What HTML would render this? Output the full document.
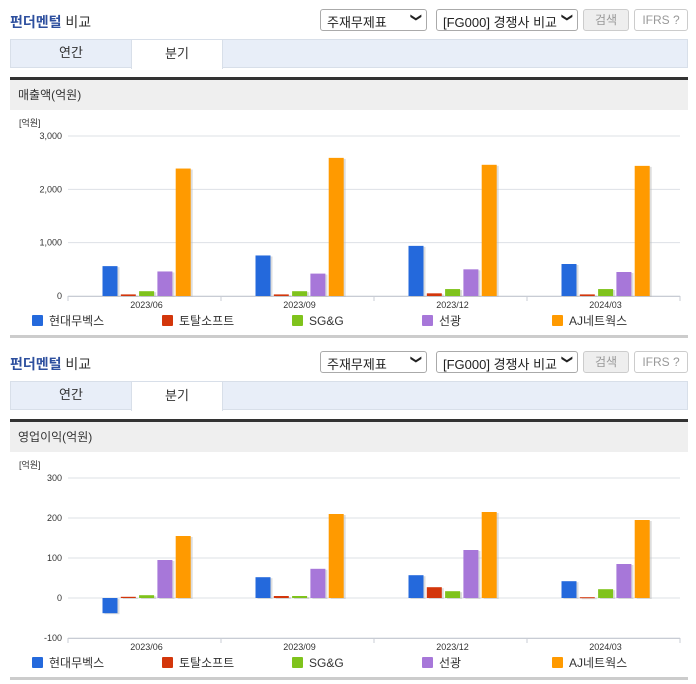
<!DOCTYPE html>
<html><head><meta charset="utf-8">
<style>
*{box-sizing:border-box;margin:0;padding:0}
body{width:696px;height:684px;background:#fff;font-family:"Liberation Sans","Noto Sans CJK KR",sans-serif;position:relative;overflow:hidden;color:#333}
.abs{position:absolute}
.title{font-size:14px;color:#2d4f9e;font-weight:bold;left:10px}
.sel{height:22px;border:1px solid #aaa;border-radius:3px;background:#fff;font-size:13px;padding:2px 6px;color:#222}
.sel .arr{position:absolute;right:5px;top:1px;font-size:11px}
.btn{height:22px;border:1px solid #ccc;border-radius:3px;font-size:12px;color:#999;text-align:center;line-height:20px}
.tabs{left:10px;width:678px;height:29px;background:#e8eef8;border:1px solid #d8dfe9}
.tab{position:absolute;top:-1px;height:29px;font-size:13px;text-align:center;line-height:28px;color:#333}
.dark{left:10px;width:678px;height:3px;background:#333}
.hdr{left:10px;width:678px;height:30px;background:#efefef;font-size:12px;line-height:30px;padding-left:8px;color:#333}
.bot{left:10px;width:678px;height:3px;background:#ccc}
svg text{font-family:"Liberation Sans","Noto Sans CJK KR",sans-serif}
</style></head><body>
<div id="root"></div>
<script>
const categories=["2023/06","2023/09","2023/12","2024/03"];
const seriesNames=["현대무벡스","토탈소프트","SG&G","선광","AJ네트웍스"];
const colors=["#2469dc","#d3360b","#7fc31c","#a777d9","#ff9a00"];
const salesHyundai=[560,760,940,600];
const salesTotal=[30,30,50,30];
const salesSGG=[90,90,130,130];
const salesSungwang=[460,420,500,450];
const salesAJ=[2390,2590,2460,2440];
const salesTicks=[0,1000,2000,3000];
const salesTickLabels=["0","1,000","2,000","3,000"];
const opHyundai=[-38,52,57,42];
const opTotal=[3,5,27,2];
const opSGG=[7,5,17,22];
const opSungwang=[95,73,120,85];
const opAJ=[155,210,215,195];
const opTicks=[-100,0,100,200,300];
const opTickLabels=["-100","0","100","200","300"];

const root=document.getElementById('root');
function el(tag,cls,style,text,parent){const e=document.createElement(tag);if(cls)e.className=cls;if(style)e.style.cssText=style;if(text!=null)e.textContent=text;(parent||root).appendChild(e);return e;}
const NS="http://www.w3.org/2000/svg";
function s(tag,attrs,parent){const e=document.createElementNS(NS,tag);for(const k in attrs)e.setAttribute(k,attrs[k]);parent.appendChild(e);return e;}

function block(y0,headerText,series,ticks,tickLabels,yMin,yMax,prefix){
  let e;
  e=el('div','abs title','top:'+(y0+12)+'px',null);e.innerHTML='펀더멘털 <span style="color:#333;font-weight:normal">비교</span>';
  
  
  e=el('div','abs sel','left:320px;top:'+(y0+9)+'px;width:107px','주재무제표');
  el('span','arr','',"❯",e).style.transform='rotate(90deg)';
  
  
  e=el('div','abs sel','left:436px;top:'+(y0+9)+'px;width:142px','[FG000] 경쟁사 비교');
  el('span','arr','',"❯",e).style.transform='rotate(90deg)';
  
  
  e=el('div','abs btn','left:583px;top:'+(y0+9)+'px;width:46px;background:#eee','검색');
  
  
  e=el('div','abs btn','left:634px;top:'+(y0+9)+'px;width:54px;background:#fff','IFRS ⓘ');
  e.textContent='IFRS ?';
  
  
  const tabs=el('div','abs tabs','top:'+(y0+39)+'px');
  
  
  e=el('div','tab','left:0;width:120px','연간',tabs);
  
  
  e=el('div','tab','left:120px;width:92px;background:#fff;border:1px solid #d8dfe9;border-bottom:none;height:30px','분기',tabs);
  
  
  el('div','abs dark','top:'+(y0+77)+'px');
  e=el('div','abs hdr','top:'+(y0+80)+'px',headerText);
  
  
  el('div','abs bot','top:'+(y0+335)+'px');

  const svg=document.createElementNS(NS,'svg');
  svg.setAttribute('width',696);svg.setAttribute('height',230);
  svg.style.cssText='position:absolute;left:0;top:'+(y0+110)+'px';
  root.appendChild(svg);
  
  
  const top=26,bottom=186,left=68,right=680;
  const yScale=v=>bottom-(v-yMin)/(yMax-yMin)*(bottom-top);
  const cw=(right-left)/categories.length;
  const xCenter=i=>left+cw*(i+0.5)+2;
  let t=s('text',{x:19,y:16,'font-size':9,fill:'#333'},svg);t.textContent='[억원]';
  ticks.forEach((tv,i)=>{
    const y=yScale(tv);
    const g=s('line',{x1:left,x2:right,y1:y,y2:y,stroke:'#dde0e6','stroke-width':1},svg);
    
    
    const tx=s('text',{x:62,y:y+3,'font-size':9,fill:'#333','text-anchor':'end'},svg);tx.textContent=tickLabels[i];
    
    
  });
  s('line',{x1:left,x2:right,y1:bottom+0.5,y2:bottom+0.5,stroke:'#c8ccd4'},svg);
  for(let i=0;i<=categories.length;i++){const x=left+cw*i;s('line',{x1:x,x2:x,y1:bottom,y2:bottom+5,stroke:'#c8ccd4'},svg);}
  const y0v=yScale(0);
  categories.forEach((c,i)=>{
    const cx=xCenter(i);
    series.forEach((arr,k)=>{
      const v=arr[i];
      const x=cx-44+k*18.3;
      const yv=yScale(v);
      const y=Math.min(yv,y0v),h=Math.max(1,Math.abs(yv-y0v));
      s('rect',{x:x+2,y:y+1,width:15,height:h,fill:'#bbb',opacity:0.5},svg);
      const r=s('rect',{x:x,y:y,width:15,height:h,fill:colors[k]},svg);
      
      
    });
    const lab=s('text',{x:cx,y:bottom+12,'font-size':9,fill:'#333','text-anchor':'middle'},svg);lab.textContent=c;
    
    
  });
  seriesNames.forEach((n,k)=>{
    const lx=32+k*130;
    const sq=s('rect',{x:lx,y:205,width:11,height:11,fill:colors[k],rx:1},svg);
    
    
    const lt=s('text',{x:lx+17,y:215,'font-size':12,fill:'#333'},svg);lt.textContent=n;
    
    
  });
}
block(0,'매출액(억원)',[salesHyundai,salesTotal,salesSGG,salesSungwang,salesAJ],salesTicks,salesTickLabels,0,3000,'sales-');
block(342,'영업이익(억원)',[opHyundai,opTotal,opSGG,opSungwang,opAJ],opTicks,opTickLabels,-100,300,'op-');
</script>
</body></html>
